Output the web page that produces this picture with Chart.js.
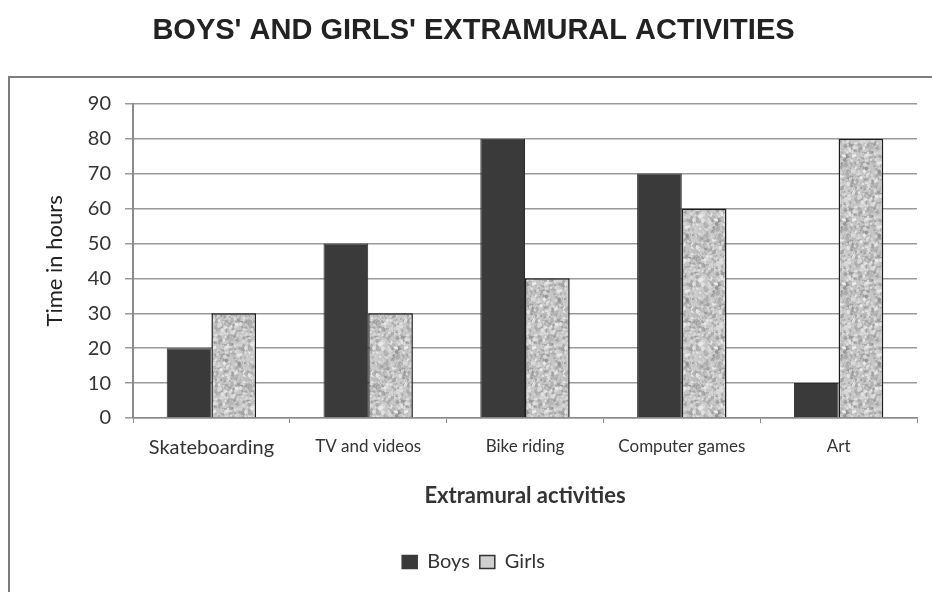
<!DOCTYPE html>
<html>
<head>
<meta charset="utf-8">
<script src="https://cdn.jsdelivr.net/npm/chart.js@4.4.1/dist/chart.umd.min.js"></script>
<style>
  html, body { margin: 0; padding: 0; background: #ffffff; }
  #wrap { width: 932px; height: 592px; }
</style>
</head>
<body>
<div id="wrap"><canvas id="chart" width="932" height="592"></canvas></div>
<script>
// Activities and hours per week
const categories = ['Skateboarding', 'TV and videos', 'Bike riding', 'Computer games', 'Art'];
const boysHours = [20, 50, 80, 70, 10];
const girlsHours = [30, 30, 40, 60, 80];
const yTicks = [0, 10, 20, 30, 40, 50, 60, 70, 80, 90];

const chartTitle = "BOYS' AND GIRLS' EXTRAMURAL ACTIVITIES";
const xTitle = 'Extramural activities';
const yTitle = 'Time in hours';

const FONT = 'Lato, "Open Sans", sans-serif';

// Mottled grey fill used for the girls' bars
function speckleTexture() {
  const size = 64;
  const c = document.createElement('canvas');
  c.width = size; c.height = size;
  const g = c.getContext('2d');
  g.fillStyle = '#c6c6c6';
  g.fillRect(0, 0, size, size);
  let s = 98765;
  const next = () => { s = (s * 1103515245 + 12345) & 0x7fffffff; return s / 0x7fffffff; };
  const shades = ['#8e8e8e', '#a4a4a4', '#dadada', '#e8e8e8', '#b0b0b0', '#d2d2d2', '#f0f0f0', '#9a9a9a'];
  g.filter = 'blur(0.5px)';
  for (let i = 0; i < 900; i++) {
    const x = next() * size, y = next() * size;
    const r = 0.6 + next() * 1.6;
    const ry = r * (0.5 + next() * 0.8);
    const rot = next() * Math.PI;
    g.fillStyle = shades[Math.floor(next() * shades.length)];
    g.globalAlpha = 0.5 + next() * 0.4;
    for (const dx of [-size, 0, size]) for (const dy of [-size, 0, size]) {
      g.beginPath();
      g.ellipse(x + dx, y + dy, r, ry, rot, 0, Math.PI * 2);
      g.fill();
    }
  }
  g.globalAlpha = 1;
  g.filter = 'none';
  return c;
}
const ctx = document.getElementById('chart').getContext('2d');
const girlsFill = ctx.createPattern(speckleTexture(), 'repeat');

// White page with the framed plot box
const framePlugin = {
  id: 'frame',
  beforeDraw(chart) {
    const c = chart.ctx;
    c.save();
    c.fillStyle = '#ffffff';
    c.fillRect(0, 0, chart.width, chart.height);
    c.strokeStyle = '#7d7d7d';
    c.lineWidth = 2;
    c.strokeRect(9, 77, 960, 560);
    c.restore();
  }
};

new Chart(ctx, {
  type: 'bar',
  data: {
    labels: categories,
    datasets: [
      {
        label: 'Boys',
        data: boysHours,
        backgroundColor: '#3a3a3a',
        borderColor: '#2a2a2a',
        borderWidth: 1
      },
      {
        label: 'Girls',
        data: girlsHours,
        backgroundColor: girlsFill,
        borderColor: '#1c1c1c',
        borderWidth: 1.5
      }
    ]
  },
  options: {
    responsive: false,
    animation: false,
    devicePixelRatio: 1,
    layout: { padding: { left: 30, right: 15, top: 0, bottom: 10 } },
    datasets: { bar: { categoryPercentage: 0.57, barPercentage: 1.0 } },
    plugins: {
      title: {
        display: true,
        text: chartTitle,
        color: '#222222',
        font: { family: '"Liberation Sans", Arial, sans-serif', size: 29, weight: 'bold', lineHeight: 1.2 },
        padding: { top: 14, bottom: 55 }
      },
      legend: {
        position: 'bottom',
        labels: {
          color: '#333333',
          font: { family: FONT, size: 20 },
          boxWidth: 15,
          boxHeight: 13,
          padding: 10,
          generateLabels(chart) {
            return chart.data.datasets.map((ds, i) => ({
              text: ds.label,
              fillStyle: i === 0 ? '#3a3a3a' : '#cfcfcf',
              strokeStyle: i === 0 ? '#3a3a3a' : '#333333',
              lineWidth: 1.5,
              datasetIndex: i,
              fontColor: '#333333'
            }));
          }
        }
      },
      tooltip: { enabled: false }
    },
    scales: {
      x: {
        afterFit(scale) { scale.height = 124; },
        grid: {
          offset: true,
          drawOnChartArea: false,
          drawTicks: true,
          tickLength: 5,
          color: '#8a8a8a'
        },
        border: { display: true, color: '#8a8a8a', width: 1.5 },
        ticks: {
          color: '#333333',
          padding: 13,
          maxRotation: 0,
          font: (c) => ({ family: FONT, size: c.index === 0 ? 20 : 17 })
        },
        title: {
          display: true,
          text: xTitle,
          color: '#333333',
          font: { family: FONT, size: 22, weight: 'bold' },
          padding: { top: 0, bottom: 33 }
        }
      },
      y: {
        min: yTicks[0],
        max: yTicks[yTicks.length - 1],
        afterFit(scale) { scale.width = 103; },
        afterBuildTicks(scale) { scale.ticks = yTicks.map(v => ({ value: v })); },
        grid: {
          color: '#9a9a9a',
          lineWidth: 1.5,
          drawTicks: true,
          tickLength: 8
        },
        border: { display: true, color: '#8a8a8a', width: 2 },
        ticks: {
          color: '#333333',
          padding: 14,
          font: { family: FONT, size: 20 }
        },
        title: {
          display: true,
          text: yTitle,
          color: '#222222',
          font: { family: FONT, size: 22 },
          padding: { top: 12, bottom: 0 }
        }
      }
    }
  },
  plugins: [framePlugin]
});
</script>
</body>
</html>
